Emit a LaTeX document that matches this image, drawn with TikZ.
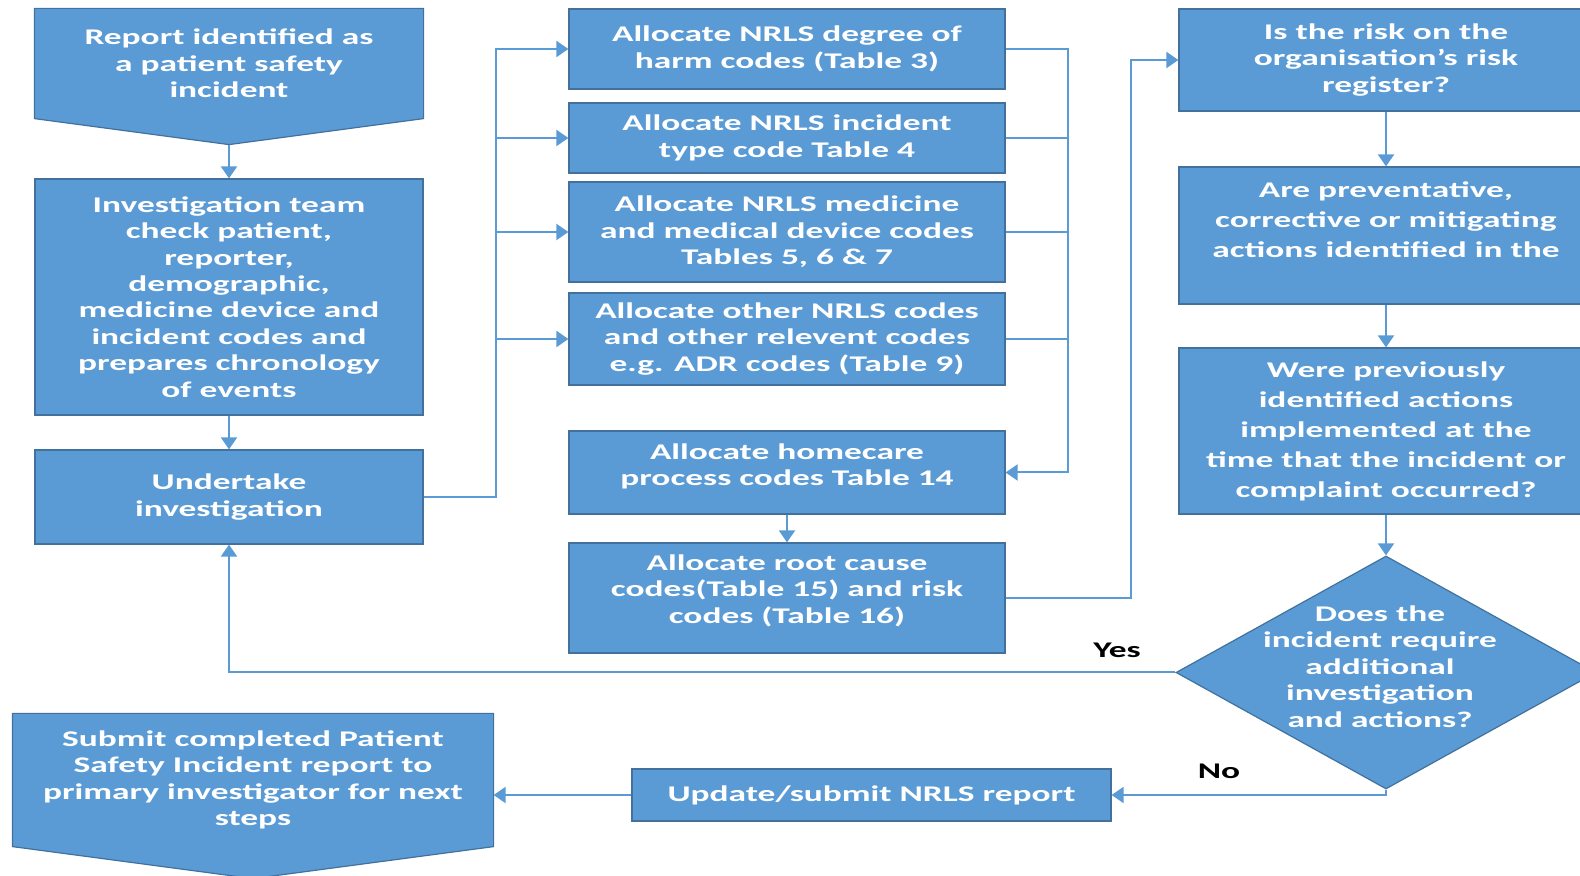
\documentclass[tikz,border=0pt]{standalone}
\usepackage{fontspec}
\newfontfamily\flowfont{Carlito}[FakeStretch=1.58]
\usetikzlibrary{arrows.meta,shapes.geometric,calc,backgrounds}
\definecolor{boxfill}{HTML}{5B9BD5}
\definecolor{boxedge}{HTML}{41719C}
\definecolor{linkblue}{HTML}{5B9BD5}
\tikzset{
  box/.style={draw=boxedge, fill=boxfill, line width=0.6pt, inner sep=0pt,
    text=white, align=center,
    font=\flowfont\bfseries\fontsize{11.2}{13.2}\selectfont},
  shapeedge/.style={draw=boxedge, fill=boxfill, line width=0.6pt},
  txt/.style={inner sep=0pt, text=white, align=center,
    font=\flowfont\bfseries\fontsize{11.2}{13.2}\selectfont},
  widetxt/.style={txt, font=\flowfont\bfseries\fontsize{11.2}{15}\selectfont},
  lbl/.style={inner sep=0pt, text=black, font=\flowfont\bfseries\fontsize{11.2}{13.2}\selectfont},
  link/.style={draw=linkblue, line width=1pt},
  arr/.style={link, -{Triangle[length=6pt,width=8pt]}},
}
\begin{document}
\begin{tikzpicture}[x=0.5pt, y=-0.5pt]
\useasboundingbox (0,0) rectangle (1580,876);

% left column
\node[box, draw=none, fill=none, minimum width=194pt, minimum height=54.5pt] (rep) at (229,63.5)
  {Report identified as\\a patient safety\\incident};
\coordinate (reptip) at ($(rep.south)+(0,26)$);
\node[box, minimum width=194pt, minimum height=118pt] (inv) at (229,297)
  {Investigation team\\check patient,\\reporter,\\demographic,\\medicine device and\\incident codes and\\prepares chronology\\of events};
\node[box, minimum width=194pt, minimum height=47pt] (und) at (229,497)
  {Undertake\\investigation};

% coding steps
\node[box, minimum width=218pt, minimum height=40pt] (a1) at (787,49)
  {Allocate NRLS degree of\\harm codes (Table 3)};
\node[box, minimum width=218pt, minimum height=35pt] (a2) at (787,138)
  {Allocate NRLS incident\\type code Table 4};
\node[box, minimum width=218pt, minimum height=50pt] (a3) at (787,232)
  {Allocate NRLS medicine\\and medical device codes\\Tables 5, 6 \& 7};
\node[box, minimum width=218pt, minimum height=46pt] (a4) at (787,339)
  {Allocate other NRLS codes\\and other relevent codes\\e.g. ADR codes (Table 9)};
\node[box, minimum width=218pt, minimum height=41.5pt] (a5) at (787,472.5) {};
\node[txt] (a5t) at (787,466.5) {Allocate homecare\\process codes Table 14};
\node[box, minimum width=218pt, minimum height=55pt] (a6) at (787,598) {};
\node[txt] (a6t) at (787,590.5) {Allocate root cause\\codes(Table 15) and risk\\codes (Table 16)};

% risk questions
\node[box, minimum width=207pt, minimum height=51pt] (r1) at (1386,60)
  {Is the risk on the\\organisation’s risk\\register?};
\node[box, minimum width=207pt, minimum height=68.5pt] (r2) at (1386,235.5) {};
\node[widetxt] (r2t) at (1386,219.7) {Are preventative,\\corrective or mitigating\\actions identified in the};
\node[box, minimum width=207pt, minimum height=83pt, font=\flowfont\bfseries\fontsize{11.2}{15}\selectfont] (r3) at (1386,431)
  {Were previously\\identified actions\\implemented at the\\time that the incident or\\complaint occurred?};
\node[shapeedge, diamond, inner sep=0pt, minimum width=210pt, minimum height=116.5pt] (dia) at (1386,672.5) {};
\node[txt] (diat) at (1380,666.5) {Does the\\incident require\\additional\\investigation\\and actions?};

% final steps
\node[box, minimum width=239.5pt, minimum height=26pt] (upd) at (871.5,795)
  {Update/submit NRLS report};
\node[box, draw=none, fill=none, minimum width=240pt, minimum height=66pt] (sub) at (253,780)
  {Submit completed Patient\\Safety Incident report to\\primary investigator for next\\steps};
\coordinate (subtip) at ($(sub.south)+(0,32)$);

\begin{pgfonlayer}{background}
  \draw[shapeedge] (rep.north west) -- (rep.north east) -- (rep.south east)
    -- (reptip) -- (rep.south west) -- cycle;
  \draw[shapeedge] (sub.north west) -- (sub.north east) -- (sub.south east)
    -- (subtip) -- (sub.south west) -- cycle;
\end{pgfonlayer}

% connectors
\coordinate (bus) at (496,0);
\coordinate (col) at (1068,0);
\coordinate (riser) at (1131,0);

\draw[arr] (reptip) -- (inv.north);
\draw[arr] (inv.south) -- (und.north);
\draw[arr] (und.east) -| (bus |- a1.west) -- (a1.west);
\foreach \n in {a2,a3,a4} \draw[arr] (bus |- \n.west) -- (\n.west);
\draw[arr] (a1.east) -| (col |- a5.east) -- (a5.east);
\foreach \n in {a2,a3,a4} \draw[link] (\n.east) -- (col |- \n.east);
\draw[arr] (a5.south) -- (a6.north);
\draw[arr] (a6.east) -| (riser |- r1.west) -- (r1.west);
\draw[arr] (r1.south) -- (r2.north);
\draw[arr] (r2.south) -- (r3.north);
\draw[arr] (r3.south) -- (dia.north);
\draw[arr] (dia.west) -| (und.south);
\draw[arr] (dia.south) |- (upd.east);
\draw[arr] (upd.west) -- (upd.west -| sub.east);

\node[lbl] (yes) at (1117,650) {Yes};
\node[lbl] (no) at (1219,771) {No};
\end{tikzpicture}
\end{document}
